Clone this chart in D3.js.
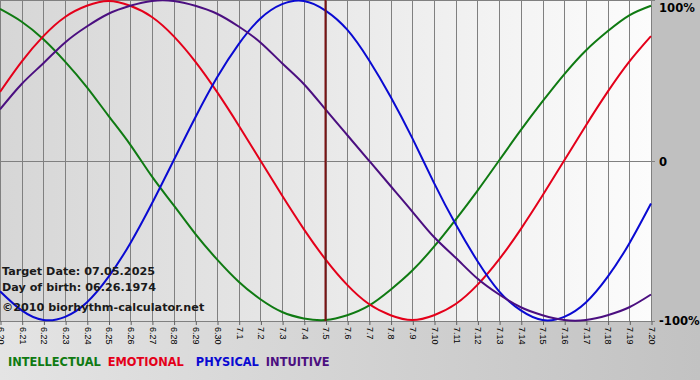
<!DOCTYPE html>
<html>
<head>
<meta charset="utf-8">
<script src="https://cdn.jsdelivr.net/npm/d3@7/dist/d3.min.js"></script>
<style>
  body { margin: 0; background: #c0c0c0; }
</style>
</head>
<body>
<div id="chart"></div>
<script>
const days = ["6.20","6.21","6.22","6.23","6.24","6.25","6.26","6.27","6.28","6.29","6.30",
  "7.1","7.2","7.3","7.4","7.5","7.6","7.7","7.8","7.9","7.10",
  "7.11","7.12","7.13","7.14","7.15","7.16","7.17","7.18","7.19","7.20"];

// values, -1 .. 1
const intellectual = [0.95,0.87,0.76,0.62,0.46,0.28,0.10,-0.10,-0.28,-0.46,-0.62,-0.76,-0.87,-0.95,-0.99,-1.00,
  -0.97,-0.91,-0.81,-0.69,-0.54,-0.37,-0.19,0.00,0.19,0.37,0.54,0.69,0.81,0.91,0.97];
const emotional = [0.43,0.62,0.78,0.90,0.97,1.00,0.97,0.90,0.78,0.62,0.43,0.22,0.00,-0.22,-0.43,-0.62,
  -0.78,-0.90,-0.97,-1.00,-0.97,-0.90,-0.78,-0.62,-0.43,-0.22,0.00,0.22,0.43,0.62,0.78];
const physical = [-0.82,-0.94,-1.00,-0.98,-0.89,-0.73,-0.52,-0.27,0.00,0.27,0.52,0.73,0.89,0.98,1.00,0.94,
  0.82,0.63,0.40,0.14,-0.14,-0.40,-0.63,-0.82,-0.94,-1.00,-0.98,-0.89,-0.73,-0.52,-0.27];
const intuitive = [0.32,0.48,0.61,0.74,0.84,0.92,0.97,1.00,1.00,0.97,0.92,0.84,0.74,0.61,0.48,0.32,
  0.16,0.00,-0.16,-0.32,-0.48,-0.61,-0.74,-0.84,-0.92,-0.97,-1.00,-1.00,-0.97,-0.92,-0.84];

const yTicks = [1, 0, -1];
const yTickLabels = ["100%", "0", "-100%"];
const targetDay = "7.5";
const infoLines = ["Target Date: 07.05.2025", "Day of birth: 06.26.1974", "\u00a92010 biorhythm-calculator.net"];

const series = [
  {name: "INTELLECTUAL", values: intellectual, color: "#0f7a12"},
  {name: "EMOTIONAL", values: emotional, color: "#e4001a"},
  {name: "PHYSICAL", values: physical, color: "#0a0ad2"},
  {name: "INTUITIVE", values: intuitive, color: "#4b0f80"}
];

const width = 700, height = 380;
const plotW = 651, plotH = 321;

const svg = d3.select("#chart").append("svg")
  .attr("width", width)
  .attr("height", height)
  .style("font-family", "'DejaVu Sans', Verdana, sans-serif");

const defs = svg.append("defs");
const g1 = defs.append("linearGradient").attr("id", "plotBg");
g1.append("stop").attr("offset", "0%").attr("stop-color", "#d6d6d6");
g1.append("stop").attr("offset", "100%").attr("stop-color", "#fcfcfc");
const g2 = defs.append("linearGradient").attr("id", "bottomBg");
g2.append("stop").attr("offset", "0%").attr("stop-color", "#e4e4e4");
g2.append("stop").attr("offset", "100%").attr("stop-color", "#c2c2c2");

svg.append("rect").attr("width", width).attr("height", height).attr("fill", "#c0c0c0");
svg.append("rect").attr("x", 0).attr("y", plotH).attr("width", width).attr("height", height - plotH)
  .attr("fill", "url(#bottomBg)");
svg.append("rect").attr("x", plotW).attr("y", 0).attr("width", width - plotW).attr("height", plotH + 1)
  .attr("fill", "#c0c0c0");
svg.append("rect").attr("width", plotW).attr("height", plotH).attr("fill", "url(#plotBg)");

const x = d3.scalePoint().domain(days).range([0, plotW]);
const y = d3.scaleLinear().domain([-1, 1]).range([plotH - 1, 1]);

// vertical grid
svg.append("g")
  .selectAll("line")
  .data(days)
  .enter()
  .append("line")
  .attr("x1", d => Math.round(x(d)) + 0.5)
  .attr("x2", d => Math.round(x(d)) + 0.5)
  .attr("y1", 0)
  .attr("y2", plotH)
  .attr("stroke", "#808080")
  .attr("stroke-width", 1);

// horizontal lines (top, zero, bottom)
svg.append("g")
  .selectAll("line")
  .data([0, plotH / 2, plotH])
  .enter()
  .append("line")
  .attr("x1", 0)
  .attr("x2", plotW + 4)
  .attr("y1", d => Math.round(d) + 0.5)
  .attr("y2", d => Math.round(d) + 0.5)
  .attr("stroke", "#808080");

// bottom axis
const xAxis = svg.append("g")
  .attr("transform", `translate(0.5,${plotH})`)
  .call(d3.axisBottom(x).tickSize(4).tickPadding(0));
xAxis.select(".domain").remove();
xAxis.selectAll(".tick line").attr("stroke", "#606060");
xAxis.selectAll(".tick text")
  .attr("transform", "rotate(90)")
  .attr("text-anchor", "start")
  .attr("x", 6)
  .attr("y", 0)
  .attr("dy", "0.35em")
  .style("font-size", "9px")
  .attr("fill", "#000");

// right labels
svg.append("g")
  .selectAll("text")
  .data(yTicks)
  .enter()
  .append("text")
  .attr("x", 659)
  .attr("y", d => Math.max(y(d) + 5, 12))
  .style("font-size", "11.6px")
  .style("font-weight", "bold")
  .attr("fill", "#000")
  .text((d, i) => yTickLabels[i]);

// curves
const line = d3.line()
  .x((d, i) => x(days[i]))
  .y(d => y(d))
  .curve(d3.curveNatural);

svg.append("g")
  .selectAll("path")
  .data(series)
  .enter()
  .append("path")
  .attr("d", d => line(d.values))
  .attr("fill", "none")
  .attr("stroke", d => d.color)
  .attr("stroke-width", 2);

// target date line
svg.append("line")
  .attr("x1", x(targetDay))
  .attr("x2", x(targetDay))
  .attr("y1", 0)
  .attr("y2", plotH)
  .attr("stroke", "#7a1414")
  .attr("stroke-width", 2);

// info text
svg.append("g")
  .selectAll("text")
  .data(infoLines)
  .enter()
  .append("text")
  .attr("x", 2)
  .attr("y", (d, i) => [275, 291, 311][i])
  .style("font-size", "11.2px")
  .style("font-weight", "bold")
  .attr("fill", "#1a1a1a")
  .text(d => d);

// legend
const legendGap = [7, 12, 7, 0];
let lx = 8;
series.forEach((s, i) => {
  const t = svg.append("text")
    .attr("x", lx)
    .attr("y", 366)
    .style("font-size", "11.4px")
    .style("font-weight", "bold")
    .attr("fill", s.color)
    .text(s.name);
  lx += t.node().getComputedTextLength() + legendGap[i];
});
</script>
</body>
</html>
